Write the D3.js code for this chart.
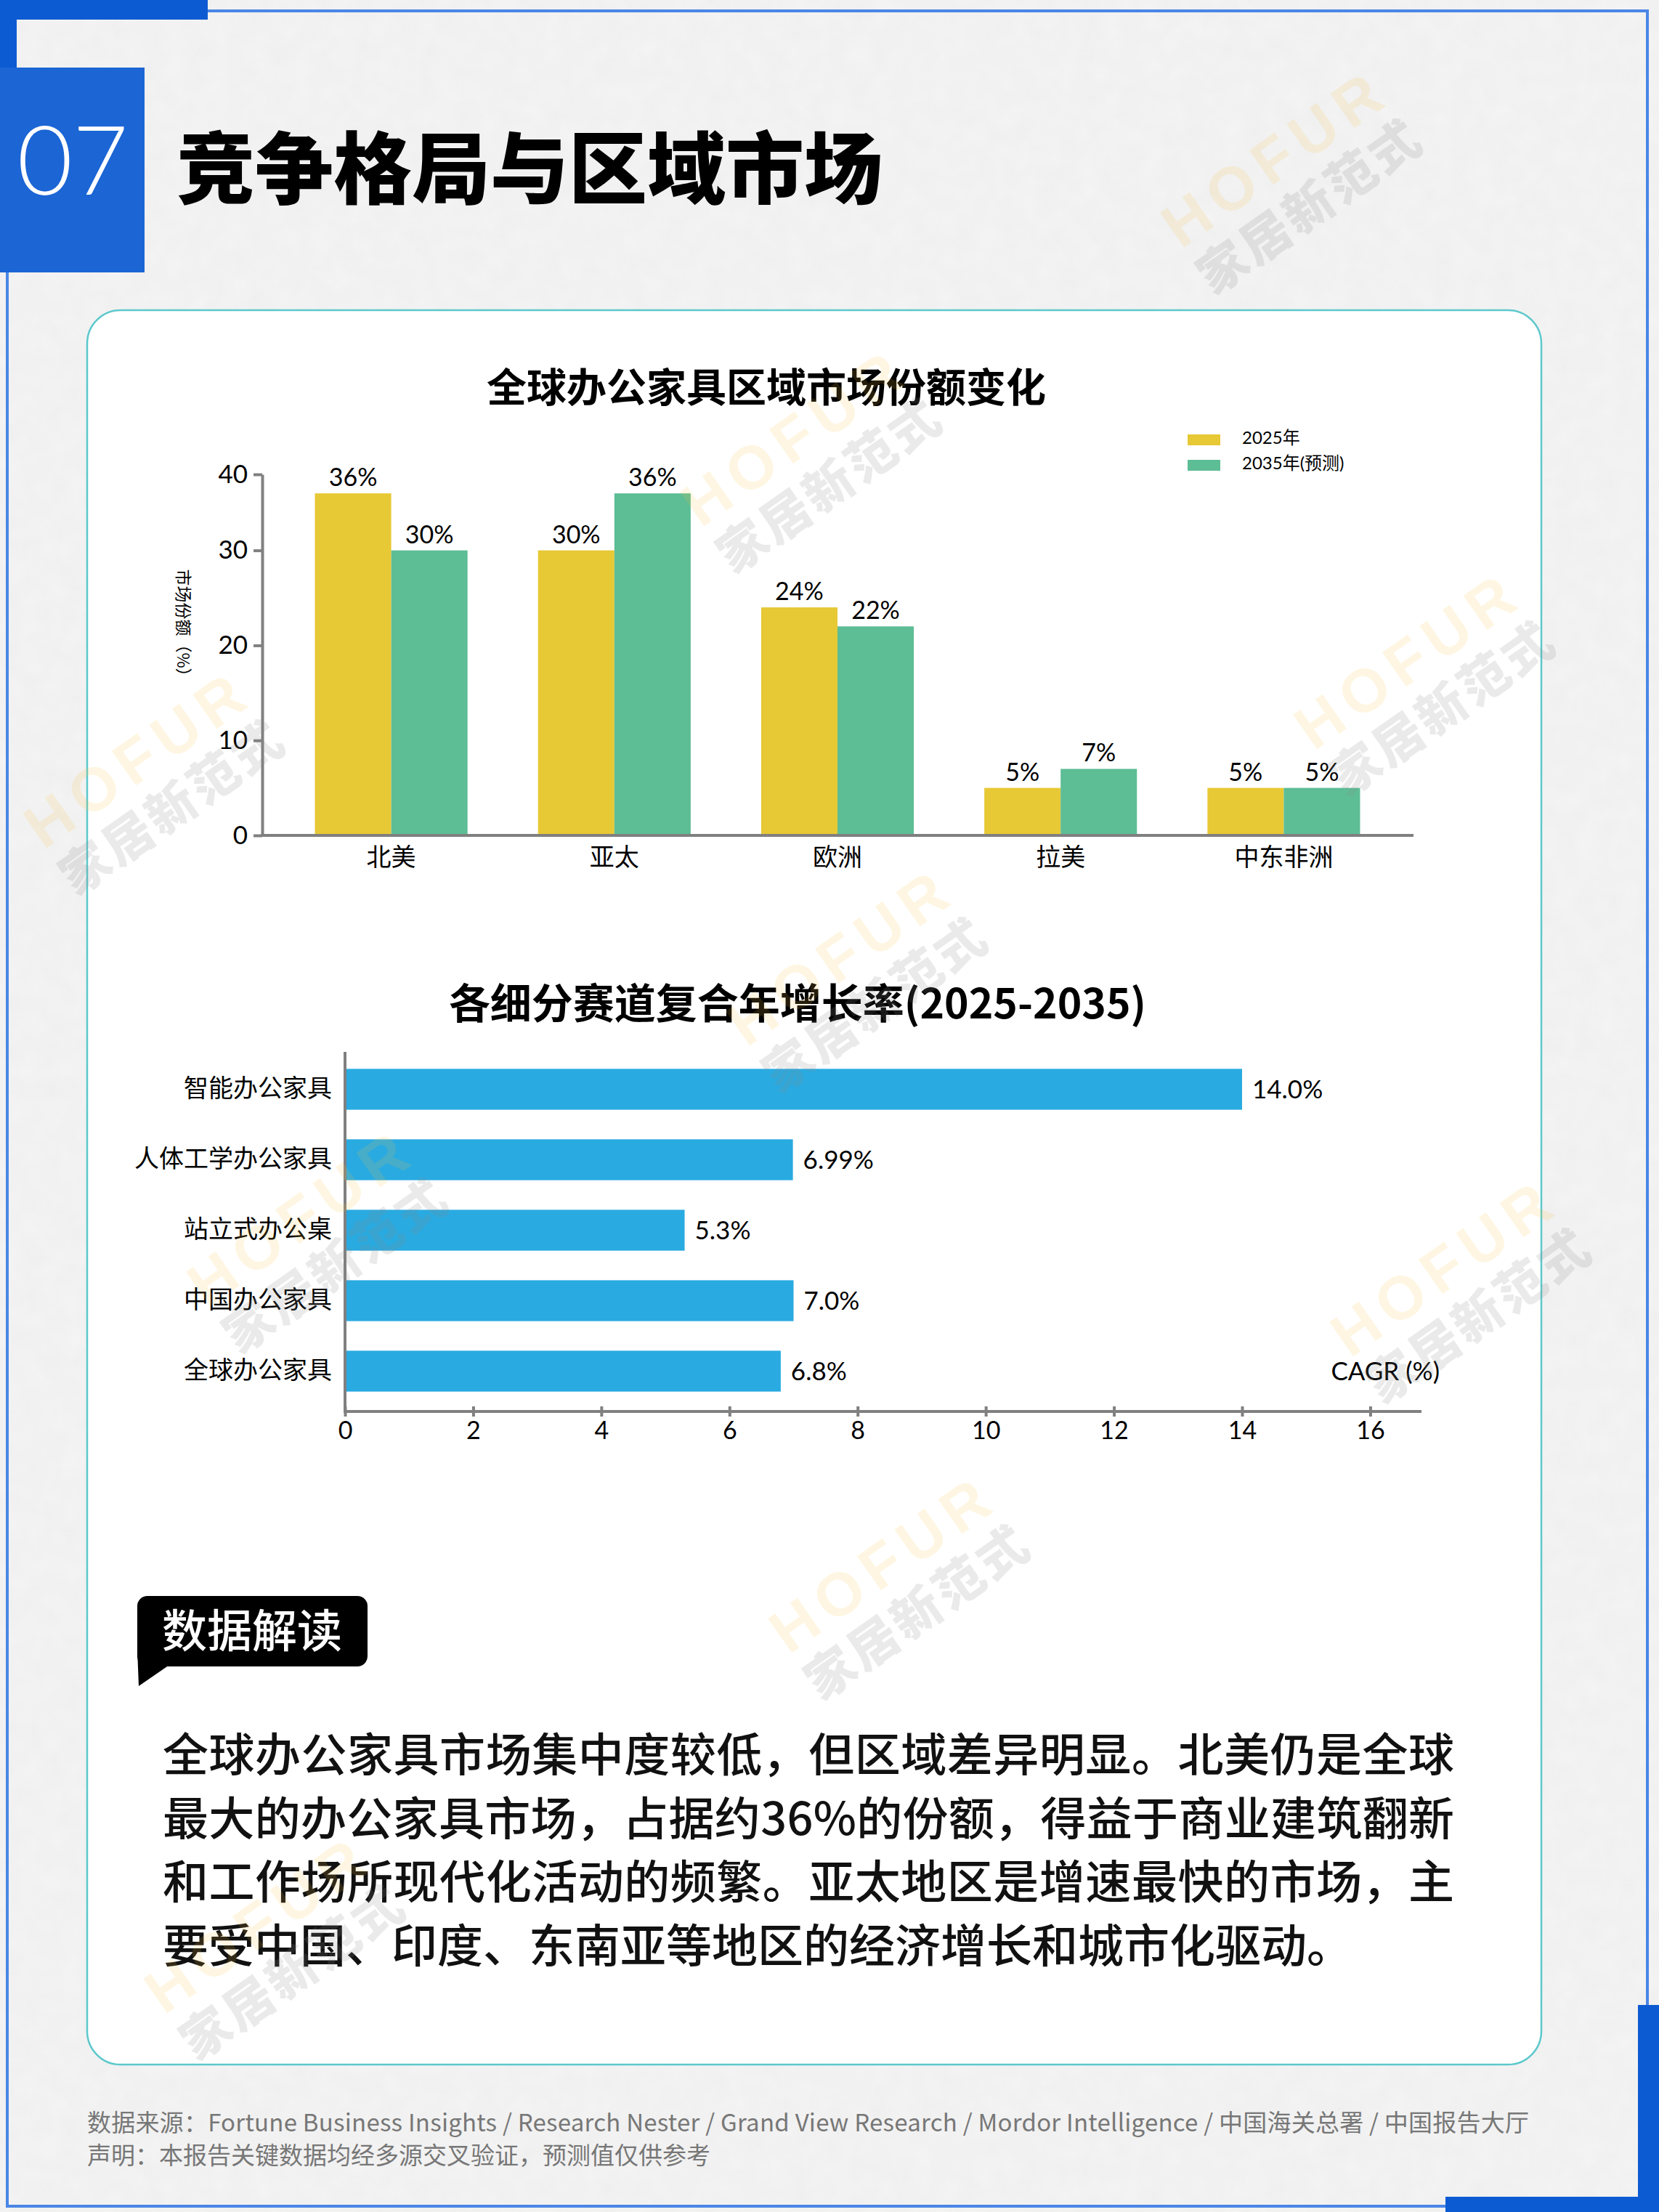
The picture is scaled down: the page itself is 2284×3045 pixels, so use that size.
<!DOCTYPE html>
<html>
<head>
<meta charset="utf-8">
<script src="https://cdn.jsdelivr.net/npm/d3@7"></script>
<style>
    body { margin: 0; background: #f3f3f3; }
    svg { display: block; }
</style>
</head>
<body>
<div id="page"></div>
<script>
// chart 1 data
const regions = ['北美', '亚太', '欧洲', '拉美', '中东非洲'];
const seriesNames = ['2025年', '2035年(预测)'];
const share2025 = [36, 30, 24, 5, 5];
const share2035 = [30, 36, 22, 7, 5];
const shareTickValues = [0, 10, 20, 30, 38];
const shareTickLabels = ['0', '10', '20', '30', '40'];

// chart 2 data
const segments = ['智能办公家具', '人体工学办公家具', '站立式办公桌', '中国办公家具', '全球办公家具'];
const cagr = [14.0, 6.99, 5.3, 7.0, 6.8];
const cagrLabels = ['14.0%', '6.99%', '5.3%', '7.0%', '6.8%'];
const cagrTicks = [0, 2, 4, 6, 8, 10, 12, 14, 16];

const paragraphLines = [
    '全球办公家具市场集中度较低，但区域差异明显。北美仍是全球',
    '最大的办公家具市场，占据约36%的份额，得益于商业建筑翻新',
    '和工作场所现代化活动的频繁。亚太地区是增速最快的市场，主',
    '要受中国、印度、东南亚等地区的经济增长和城市化驱动。'
];
const footerLines = [
    '数据来源：Fortune Business Insights / Research Nester / Grand View Research / Mordor Intelligence / 中国海关总署 / 中国报告大厅',
    '声明：本报告关键数据均经多源交叉验证，预测值仅供参考'
];

const W = 2284, H = 3045;
const CJK = '"Noto Sans CJK SC", sans-serif';
const NUM = 'Lato, "Noto Sans CJK SC", sans-serif';
const colors = ['#e7c835', '#5dbd95'];
const blue = '#29aae1';
const axisGray = '#808080';
const frameBlue = '#0d5bd2';
const lineBlue = '#4a86e6';

const svg = d3.select('#page').append('svg')
    .attr('width', W)
    .attr('height', H);

//paper background with light grain
const defs = svg.append('defs');
const grain = defs.append('filter').attr('id', 'grain').attr('x', 0).attr('y', 0).attr('width', 1).attr('height', 1);
grain.append('feTurbulence').attr('type', 'fractalNoise').attr('baseFrequency', 0.035).attr('numOctaves', 3).attr('seed', 4);
grain.append('feColorMatrix').attr('values', '0 0 0 0 0.5  0 0 0 0 0.5  0 0 0 0 0.5  0 0 0 0.09 0');
grain.append('feComposite').attr('in2', 'SourceGraphic').attr('operator', 'in');

svg.append('rect').attr('width', W).attr('height', H).attr('fill', '#f4f4f4');
svg.append('rect').attr('width', W).attr('height', H).attr('fill', '#fff').attr('filter', 'url(#grain)');

//frame
const frame = svg.append('g');
frame.append('path')
    .attr('d', 'M286,15 H2268 V2760 M1990,3037 H10 V375')
    .attr('fill', 'none')
    .attr('stroke', lineBlue)
    .attr('stroke-width', 4);
frame.append('rect').attr('x', 0).attr('y', 0).attr('width', 286).attr('height', 27).attr('fill', frameBlue);
frame.append('rect').attr('x', 0).attr('y', 0).attr('width', 23).attr('height', 95).attr('fill', frameBlue);
frame.append('rect').attr('x', 0).attr('y', 93).attr('width', 199).attr('height', 282).attr('fill', '#1b65d5');
frame.append('rect').attr('x', 2255).attr('y', 2760).attr('width', 29).attr('height', 285).attr('fill', frameBlue);
frame.append('rect').attr('x', 1990).attr('y', 3024).attr('width', 294).attr('height', 21).attr('fill', frameBlue);

frame.append('text')
    .attr('x', 100).attr('y', 268)
    .attr('text-anchor', 'middle')
    .attr('fill', '#fff')
    .style('font-family', NUM)
    .style('font-weight', 300)
    .style('font-size', '132px')
    .text('07');

svg.append('text')
    .attr('x', 243).attr('y', 272)
    .attr('fill', '#000')
    .style('font-family', CJK)
    .style('font-weight', 900)
    .style('font-size', '108px')
    .text('竞争格局与区域市场');

//card
svg.append('rect')
    .attr('x', 120).attr('y', 427)
    .attr('width', 2002).attr('height', 2415)
    .attr('rx', 46)
    .attr('fill', '#fff')
    .attr('stroke', '#5cc8cc')
    .attr('stroke-width', 2.5);

//chart 1: regional share
svg.append('text')
    .attr('x', 1055).attr('y', 553)
    .attr('text-anchor', 'middle')
    .style('font-family', CJK)
    .style('font-weight', 700)
    .style('font-size', '55px')
    .text('全球办公家具区域市场份额变化');

const x0 = d3.scaleBand().domain(regions).range([385, 1921]).paddingInner(0.316).paddingOuter(0.158);
const x1 = d3.scaleBand().domain(seriesNames).range([0, x0.bandwidth()]);
const yShare = d3.scaleLinear().domain([0, 38]).range([1150, 653]);

const shareData = regions.map((r, i) => ({ region: r, values: [share2025[i], share2035[i]] }));

const group = svg.append('g').selectAll('g')
    .data(shareData)
    .join('g')
    .attr('transform', d => 'translate(' + x0(d.region) + ',0)');

group.selectAll('rect')
    .data(d => d.values.map((v, j) => ({ name: seriesNames[j], value: v, j })))
    .join('rect')
    .attr('x', d => x1(d.name))
    .attr('y', d => yShare(d.value))
    .attr('width', x1.bandwidth())
    .attr('height', d => yShare(0) - yShare(d.value))
    .attr('fill', d => colors[d.j]);

group.selectAll('text')
    .data(d => d.values.map((v, j) => ({ name: seriesNames[j], value: v })))
    .join('text')
    .attr('x', d => x1(d.name) + x1.bandwidth() / 2)
    .attr('y', d => yShare(d.value) - 10)
    .attr('text-anchor', 'middle')
    .style('font-family', NUM)
    .style('font-size', '34px')
    .text(d => d.value + '%');

const yAxis = svg.append('g')
    .attr('transform', 'translate(361,0)')
    .call(d3.axisLeft(yShare).tickValues(shareTickValues).tickFormat((d, i) => shareTickLabels[i]).tickSize(12).tickSizeOuter(0).tickPadding(8));
yAxis.select('.domain').attr('stroke', axisGray).attr('stroke-width', 4);
yAxis.selectAll('.tick line').attr('stroke', axisGray).attr('stroke-width', 4);
yAxis.selectAll('.tick text').attr('fill', '#000').style('font-family', NUM).style('font-size', '35px');

const xAxis = svg.append('g')
    .attr('transform', 'translate(0,1150)')
    .call(d3.axisBottom(x0).tickSize(0).tickPadding(18));
xAxis.select('.domain').remove();
xAxis.selectAll('.tick text').attr('fill', '#000').style('font-family', CJK).style('font-size', '34px');
svg.append('line')
    .attr('x1', 359).attr('x2', 1946)
    .attr('y1', 1150).attr('y2', 1150)
    .attr('stroke', axisGray).attr('stroke-width', 4);

svg.append('text')
    .attr('transform', 'translate(244,863) rotate(90)')
    .attr('text-anchor', 'middle')
    .style('font-family', CJK)
    .style('font-size', '23px')
    .text('市场份额（%）');

const legend = svg.append('g').selectAll('g')
    .data(seriesNames)
    .join('g')
    .attr('transform', (d, i) => 'translate(1635,' + (598 + i * 35) + ')');
legend.append('rect').attr('width', 45).attr('height', 15).attr('fill', (d, i) => colors[i]);
legend.append('text')
    .attr('x', 75).attr('y', 13)
    .style('font-family', NUM)
    .style('font-size', '24px')
    .text(d => d);

//chart 2: CAGR by segment
svg.append('text')
    .attr('x', 1098).attr('y', 1402)
    .attr('text-anchor', 'middle')
    .style('font-family', CJK)
    .style('font-weight', 700)
    .style('font-size', '57px')
    .text('各细分赛道复合年增长率(2025-2035)');

const xc = d3.scaleLinear().domain([0, 16.8]).range([475, 1957]);
const yc = d3.scaleBand().domain(segments).range([1451, 1936]).paddingInner(0.42).paddingOuter(0.21);

svg.append('g').selectAll('rect')
    .data(segments)
    .join('rect')
    .attr('x', xc(0))
    .attr('y', d => yc(d))
    .attr('width', (d, i) => xc(cagr[i]) - xc(0))
    .attr('height', yc.bandwidth())
    .attr('fill', blue);

svg.append('g').selectAll('text')
    .data(segments)
    .join('text')
    .attr('x', (d, i) => xc(cagr[i]) + 14)
    .attr('y', d => yc(d) + yc.bandwidth() / 2)
    .attr('dy', '0.35em')
    .style('font-family', NUM)
    .style('font-size', '35px')
    .text((d, i) => cagrLabels[i]);

const cAxis = svg.append('g')
    .attr('transform', 'translate(0,1943)')
    .call(d3.axisBottom(xc).tickValues(cagrTicks).tickSize(7).tickSizeOuter(0).tickPadding(7));
cAxis.select('.domain').remove();
cAxis.selectAll('.tick line').attr('y1', -7).attr('y2', 7).attr('stroke', axisGray).attr('stroke-width', 4);
cAxis.selectAll('.tick text').attr('fill', '#000').style('font-family', NUM).style('font-size', '34px');

const sAxis = svg.append('g')
    .attr('transform', 'translate(475,0)')
    .call(d3.axisLeft(yc).tickSize(0).tickPadding(18));
sAxis.select('.domain').remove();
sAxis.selectAll('.tick text').attr('fill', '#000').style('font-family', CJK).style('font-size', '34px');

svg.append('path')
    .attr('d', 'M475,1448 V1943 H1957')
    .attr('fill', 'none')
    .attr('stroke', axisGray)
    .attr('stroke-width', 4);

svg.append('text')
    .attr('x', 1982).attr('y', yc(segments[4]) + yc.bandwidth() / 2)
    .attr('dy', '0.35em')
    .attr('text-anchor', 'end')
    .style('font-family', NUM)
    .style('font-size', '35px')
    .text('CAGR (%)');

//interpretation block
const badge = svg.append('g');
badge.append('rect')
    .attr('x', 189).attr('y', 2197)
    .attr('width', 317).attr('height', 97)
    .attr('rx', 14)
    .attr('fill', '#000');
badge.append('path').attr('d', 'M189,2270 L191,2321 L236,2290 Z').attr('fill', '#000');
badge.append('text')
    .attr('x', 347).attr('y', 2268)
    .attr('text-anchor', 'middle')
    .attr('fill', '#fff')
    .style('font-family', CJK)
    .style('font-weight', 500)
    .style('font-size', '62px')
    .text('数据解读');

svg.append('g').selectAll('text')
    .data(paragraphLines)
    .join('text')
    .attr('x', 224)
    .attr('y', (d, i) => 2438 + i * 87.5)
    .attr('textLength', (d, i) => i < 3 ? 1778 : null)
    .attr('lengthAdjust', 'spacing')
    .attr('fill', '#111')
    .style('font-family', CJK)
    .style('font-weight', 500)
    .style('font-size', '63px')
    .text(d => d);

svg.append('g').selectAll('text')
    .data(footerLines)
    .join('text')
    .attr('x', 120)
    .attr('y', (d, i) => 2934 + i * 45)
    .attr('textLength', (d, i) => i === 0 ? 1985 : null)
    .attr('lengthAdjust', 'spacing')
    .attr('fill', '#777')
    .style('font-family', CJK)
    .style('font-size', '33px')
    .text(d => d);

//watermarks on top
const marks = [[1784, 257], [1123, 641], [1967, 948], [218, 1084], [1186, 1356], [443, 1715], [2017, 1784], [1244, 2192], [384, 2688]];
const mark = svg.append('g').selectAll('g')
    .data(marks)
    .join('g')
    .attr('transform', d => 'translate(' + d[0] + ',' + d[1] + ') rotate(-35)');
mark.append('text')
    .attr('y', -20)
    .attr('text-anchor', 'middle')
    .attr('fill', '#f5c23c')
    .attr('fill-opacity', 0.15)
    .style('font-family', '"Liberation Sans", Arial, sans-serif')
    .style('font-weight', 900)
    .style('font-size', '84px')
    .style('letter-spacing', '12px')
    .text('HOFUR');
mark.append('text')
    .attr('y', 58)
    .attr('text-anchor', 'middle')
    .attr('fill', '#8c8c8c')
    .attr('fill-opacity', 0.18)
    .style('font-family', CJK)
    .style('font-weight', 900)
    .style('font-size', '68px')
    .style('letter-spacing', '4px')
    .text('家居新范式');
</script>
</body>
</html>
